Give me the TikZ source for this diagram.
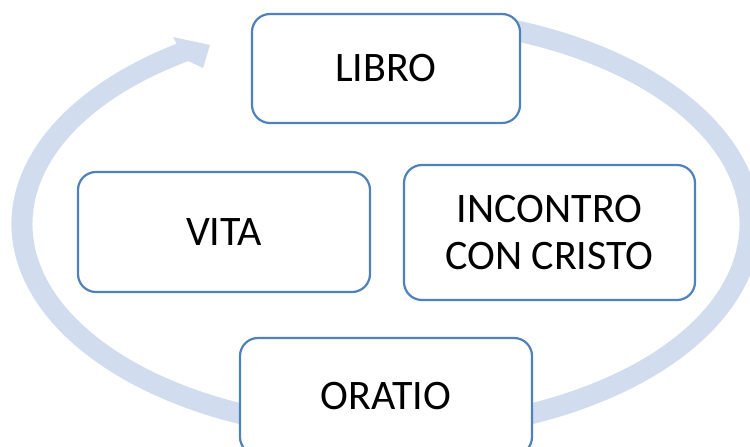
\documentclass[tikz,border=0pt]{standalone}
\usepackage{fontspec}
\setmainfont{Carlito}
\definecolor{boxline}{RGB}{79,129,189}
\definecolor{ringfill}{RGB}{209,221,238}
\begin{document}
\begin{tikzpicture}[x=1pt,y=1pt,
  stagebox/.style={draw=boxline, line width=2.2pt, rounded corners=18pt, fill=white,
    inner sep=0pt, outer sep=0pt, align=center, font=\fontsize{42}{47}\selectfont},
  ringstyle/.style={fill=ringfill}]
\useasboundingbox (0,0) rectangle (750,447);
% cycle arrow ring
\begin{scope}[shift={(386,223)}]
\fill[ringstyle] (70:374.5 and 217.5)
  arc[start angle=70, end angle=-236, x radius=374.5, y radius=217.5]
  -- (-213,187) -- (-176,179) -- (-183,156)
  -- (124:353.5 and 196.5)
  arc[start angle=-236, end angle=70, x radius=353.5, y radius=196.5]
  -- cycle;
\end{scope}
% boxes
\node[stagebox, minimum width=268pt, minimum height=109pt] (libro) at (386,378.5) {LIBRO};
\node[stagebox, minimum width=292pt, minimum height=120pt] (vita) at (224,215) {VITA};
\node[stagebox, minimum width=291pt, minimum height=135pt] (incontro) at (549.5,214.5) {INCONTRO\\CON CRISTO};
\node[stagebox, minimum width=292pt, minimum height=117pt] (oratio) at (386,50.5) {ORATIO};
\end{tikzpicture}
\end{document}
